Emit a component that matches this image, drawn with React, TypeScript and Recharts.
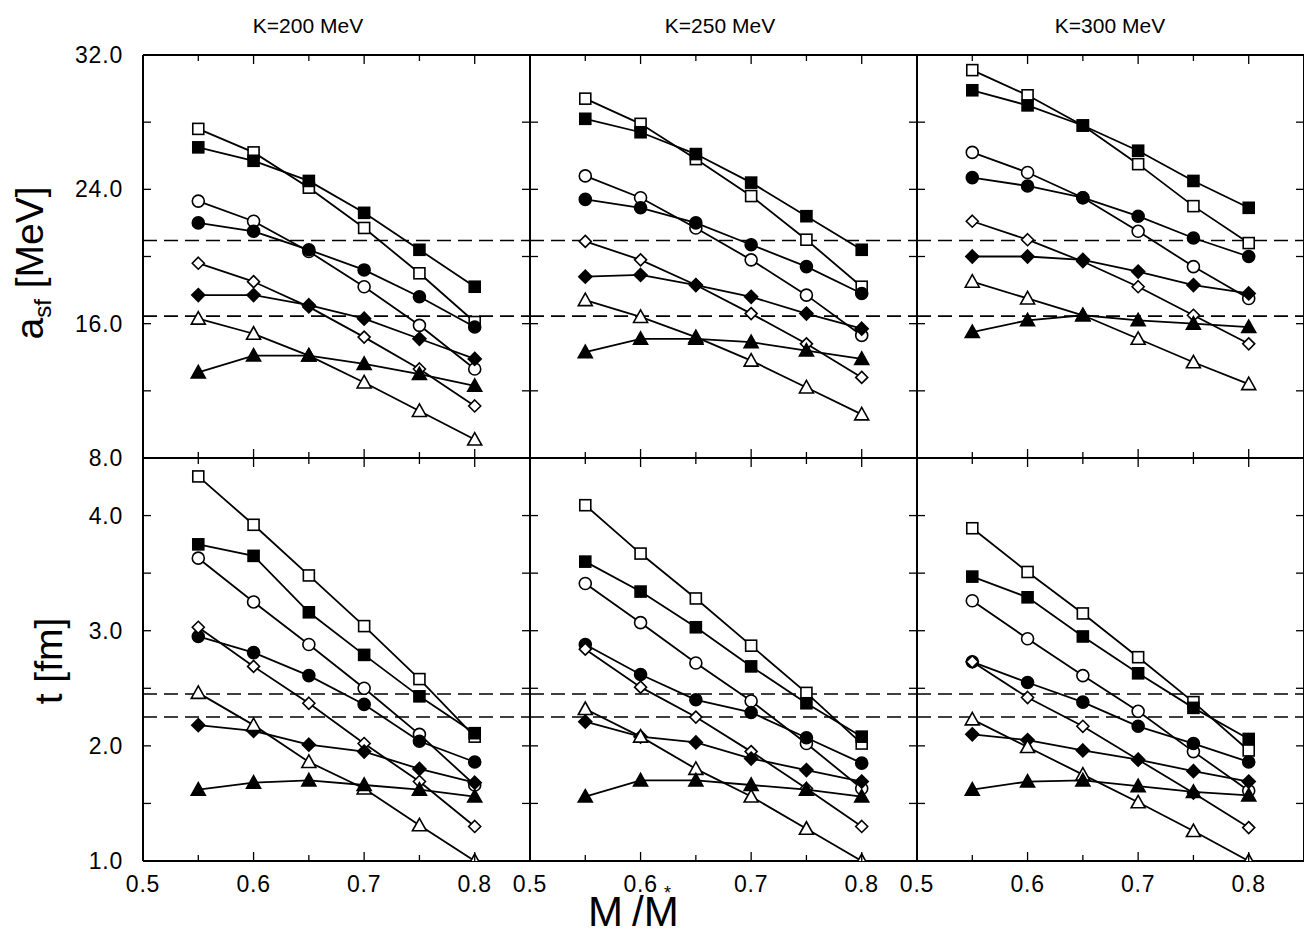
import React from "react"
import { LineChart, Line, XAxis, YAxis, ReferenceLine } from "recharts"

const mStar = [0.55, 0.6, 0.65, 0.7, 0.75, 0.8]
const kTitles = ["K=200 MeV", "K=250 MeV", "K=300 MeV"]

// row order in every panel: open square, full square, open circle, full circle,
// open diamond, full diamond, open triangle, full triangle
const asfK200 = [
  [27.6, 26.2, 24.1, 21.7, 19.0, 16.1],
  [26.5, 25.7, 24.5, 22.6, 20.4, 18.2],
  [23.3, 22.1, 20.3, 18.2, 15.9, 13.3],
  [22.0, 21.5, 20.4, 19.2, 17.6, 15.8],
  [19.6, 18.5, 17.0, 15.2, 13.3, 11.1],
  [17.7, 17.7, 17.1, 16.3, 15.1, 13.9],
  [16.3, 15.4, 14.1, 12.5, 10.8, 9.1],
  [13.1, 14.1, 14.1, 13.6, 13.0, 12.3],
]
const asfK250 = [
  [29.4, 27.9, 25.8, 23.6, 21.0, 18.2],
  [28.2, 27.4, 26.1, 24.4, 22.4, 20.4],
  [24.8, 23.5, 21.7, 19.8, 17.7, 15.3],
  [23.4, 22.9, 22.0, 20.7, 19.4, 17.8],
  [20.9, 19.8, 18.3, 16.6, 14.8, 12.8],
  [18.8, 18.9, 18.3, 17.6, 16.6, 15.7],
  [17.4, 16.4, 15.2, 13.8, 12.2, 10.6],
  [14.3, 15.1, 15.1, 14.9, 14.4, 13.9],
]
const asfK300 = [
  [31.1, 29.6, 27.8, 25.5, 23.0, 20.8],
  [29.9, 29.0, 27.8, 26.3, 24.5, 22.9],
  [26.2, 25.0, 23.5, 21.5, 19.4, 17.5],
  [24.7, 24.2, 23.5, 22.4, 21.1, 20.0],
  [22.1, 21.0, 19.7, 18.2, 16.5, 14.8],
  [20.0, 20.0, 19.8, 19.1, 18.3, 17.8],
  [18.5, 17.5, 16.5, 15.1, 13.7, 12.4],
  [15.5, 16.2, 16.5, 16.2, 16.0, 15.8],
]
const tK200 = [
  [4.34, 3.92, 3.48, 3.04, 2.58, 2.08],
  [3.75, 3.65, 3.16, 2.79, 2.43, 2.11],
  [3.63, 3.25, 2.88, 2.5, 2.1, 1.66],
  [2.95, 2.81, 2.61, 2.36, 2.04, 1.86],
  [3.03, 2.69, 2.37, 2.02, 1.69, 1.3],
  [2.18, 2.13, 2.01, 1.95, 1.8, 1.68],
  [2.46, 2.18, 1.86, 1.63, 1.31, 1.0],
  [1.62, 1.68, 1.7, 1.66, 1.62, 1.56],
]
const tK250 = [
  [4.09, 3.67, 3.28, 2.87, 2.46, 2.02],
  [3.6, 3.34, 3.03, 2.69, 2.37, 2.08],
  [3.41, 3.07, 2.72, 2.39, 2.02, 1.63],
  [2.88, 2.62, 2.4, 2.29, 2.07, 1.85],
  [2.84, 2.51, 2.25, 1.95, 1.63, 1.3],
  [2.21, 2.08, 2.03, 1.89, 1.79, 1.69],
  [2.32, 2.08, 1.8, 1.56, 1.28, 1.0],
  [1.56, 1.7, 1.7, 1.66, 1.62, 1.56],
]
const tK300 = [
  [3.89, 3.51, 3.15, 2.77, 2.38, 1.96],
  [3.47, 3.29, 2.95, 2.63, 2.33, 2.06],
  [3.26, 2.93, 2.61, 2.3, 1.95, 1.61],
  [2.73, 2.55, 2.38, 2.17, 2.02, 1.86],
  [2.73, 2.42, 2.17, 1.88, 1.59, 1.29],
  [2.1, 2.05, 1.96, 1.88, 1.78, 1.69],
  [2.23, 1.99, 1.75, 1.51, 1.26, 1.0],
  [1.62, 1.69, 1.7, 1.65, 1.6, 1.57],
]

const asfDashed = [20.95, 16.45]
const tDashed = [2.45, 2.25]

const xTicks = [0.5, 0.55, 0.6, 0.65, 0.7, 0.75, 0.8]
const xLabels = [0.5, 0.6, 0.7, 0.8]
const asfTicks = [8, 12, 16, 20, 24, 28, 32]
const asfLabels = [8, 16, 24, 32]
const tTicks = [1, 1.5, 2, 2.5, 3, 3.5, 4, 4.5]
const tLabels = [1, 2, 3, 4]

const SERIES = [
  { shape: "square", filled: false },
  { shape: "square", filled: true },
  { shape: "circle", filled: false },
  { shape: "circle", filled: true },
  { shape: "diamond", filled: false },
  { shape: "diamond", filled: true },
  { shape: "triangle", filled: false },
  { shape: "triangle", filled: true },
]

const FONT = "'Liberation Sans', Arial, Helvetica, sans-serif"
const PAD = 100
const PW = 387
const PH = 403
const COL_X = [143, 530, 917]
const ROW_Y = [55, 458]

function marker(shape: string, filled: boolean) {
  return (p: any) => {
    const { cx, cy, index } = p
    if (cx == null || cy == null) return <g key={index} />
    const fill = filled ? "#000" : "#fff"
    const common = { fill, stroke: "#000", strokeWidth: 1.6 }
    if (shape === "square")
      return <rect key={index} x={cx - 5.5} y={cy - 5.5} width={11} height={11} {...common} />
    if (shape === "circle") return <circle key={index} cx={cx} cy={cy} r={6} {...common} />
    if (shape === "diamond") {
      const h = filled ? 6.5 : 6
      return (
        <path key={index} d={`M${cx},${cy - h}L${cx + h},${cy}L${cx},${cy + h}L${cx - h},${cy}Z`} {...common} />
      )
    }
    return (
      <path key={index} d={`M${cx},${cy - 7}L${cx + 7},${cy + 5.5}L${cx - 7},${cy + 5.5}Z`} {...common} />
    )
  }
}

const same = (a: number, b: number) => Math.abs(a - b) < 1e-6

const labelStyle = { fontSize: 23, fontFamily: FONT, fill: "#000", letterSpacing: 0.8 }

function Panel({ rows, row, col }: { rows: number[][]; row: number; col: number }) {
  const isTop = row === 0
  const yDomain = isTop ? [8, 32] : [1, 4.5]
  const yTicks = isTop ? asfTicks : tTicks
  const yLabels = isTop ? asfLabels : tLabels
  const dashed = isTop ? asfDashed : tDashed
  const showX = row === 1
  const showY = col === 0

  const data = mStar.map((m, i) => {
    const d: any = { m }
    rows.forEach((r, j) => (d["s" + j] = r[i]))
    return d
  })

  const xInside = (v: number) => v > 0.5001 && v < 0.8499
  const yInside = (v: number) => v > yDomain[0] + 1e-6 && v < yDomain[1] - 1e-6

  const bottomTick = (p: any) => {
    const v = p.payload.value
    const major = xLabels.some((l) => same(l, v))
    return (
      <g>
        {xInside(v) && (
          <line x1={p.x} x2={p.x} y1={PAD + PH} y2={PAD + PH - (major ? 9 : 6)} stroke="#000" strokeWidth={1.3} />
        )}
        {showX && major && (
          <text x={p.x} y={PAD + PH + 31} textAnchor="middle" {...labelStyle}>
            {v.toFixed(1)}
          </text>
        )}
      </g>
    )
  }
  const topTick = (p: any) => {
    const v = p.payload.value
    const major = xLabels.some((l) => same(l, v))
    return xInside(v) ? (
      <line x1={p.x} x2={p.x} y1={PAD} y2={PAD + (major ? 9 : 6)} stroke="#000" strokeWidth={1.3} />
    ) : (
      <g />
    )
  }
  const leftTick = (p: any) => {
    const v = p.payload.value
    return (
      <g>
        {yInside(v) && <line x1={PAD} x2={PAD + 8} y1={p.y} y2={p.y} stroke="#000" strokeWidth={1.3} />}
        {showY && yLabels.some((l) => same(l, v)) && (
          <text x={PAD - 20} y={p.y + 8} textAnchor="end" {...labelStyle}>
            {v.toFixed(1)}
          </text>
        )}
      </g>
    )
  }
  const rightTick = (p: any) => {
    const v = p.payload.value
    return yInside(v) ? (
      <line x1={PAD + PW} x2={PAD + PW - 8} y1={p.y} y2={p.y} stroke="#000" strokeWidth={1.3} />
    ) : (
      <g />
    )
  }

  const frame = { stroke: "#000", strokeWidth: 2 }

  return (
    <div style={{ position: "absolute", left: COL_X[col] - PAD, top: ROW_Y[row] - PAD }}>
      <LineChart width={PW + 2 * PAD} height={PH + 2 * PAD} data={data} margin={{ top: 0, right: 0, bottom: 0, left: 0 }}>
        <XAxis xAxisId="b" dataKey="m" type="number" domain={[0.5, 0.85]} ticks={xTicks} interval={0}
          orientation="bottom" height={PAD} axisLine={frame} tickLine={false} tick={bottomTick} allowDataOverflow />
        <XAxis xAxisId="t" dataKey="m" type="number" domain={[0.5, 0.85]} ticks={xTicks} interval={0}
          orientation="top" height={PAD} axisLine={frame} tickLine={false} tick={topTick} allowDataOverflow />
        <YAxis yAxisId="l" type="number" domain={yDomain} ticks={yTicks} interval={0}
          orientation="left" width={PAD} axisLine={frame} tickLine={false} tick={leftTick} allowDataOverflow />
        <YAxis yAxisId="r" type="number" domain={yDomain} ticks={yTicks} interval={0}
          orientation="right" width={PAD} axisLine={frame} tickLine={false} tick={rightTick} allowDataOverflow />
        {dashed.map((y) => (
          <ReferenceLine key={y} xAxisId="b" yAxisId="l" y={y} stroke="#000" strokeWidth={1.6} strokeDasharray="14 7" />
        ))}
        {SERIES.map((s, j) => (
          <Line key={j} xAxisId="b" yAxisId="l" dataKey={"s" + j} stroke="#000" strokeWidth={1.8}
            type="linear" dot={marker(s.shape, s.filled)} isAnimationActive={false} />
        ))}
      </LineChart>
    </div>
  )
}

export default function App() {
  const panels = [
    [asfK200, asfK250, asfK300],
    [tK200, tK250, tK300],
  ]
  const titleX = [308, 720, 1110]
  return (
    <div style={{ position: "absolute", left: 0, top: 0, width: 1304, height: 935, background: "#fff", overflow: "hidden" }}>
      {panels.map((r, row) => r.map((rows, col) => <Panel key={`${row}-${col}`} rows={rows} row={row} col={col} />))}
      <svg width={1304} height={935} style={{ position: "absolute", left: 0, top: 0, pointerEvents: "none" }}>
        {kTitles.map((t, i) => (
          <text key={t} x={titleX[i]} y={33} textAnchor="middle" fontSize={21} fontFamily={FONT} fill="#000">
            {t}
          </text>
        ))}
        <text transform="translate(43,263) rotate(-90)" textAnchor="middle" fontSize={39} fontFamily={FONT} fill="#000">
          a<tspan fontSize={24} dy={8}>sf</tspan>
          <tspan dy={-8}> [MeV]</tspan>
        </text>
        <text transform="translate(62,661) rotate(-90)" textAnchor="middle" fontSize={39} fontFamily={FONT} fill="#000">
          t [fm]
        </text>
        <text y={926} fontSize={42} fontFamily={FONT} fill="#000">
          <tspan x={588}>M</tspan>
          <tspan x={664} y={899} fontSize={18}>*</tspan>
          <tspan x={632} y={926}>/M</tspan>
        </text>
      </svg>
    </div>
  )
}
